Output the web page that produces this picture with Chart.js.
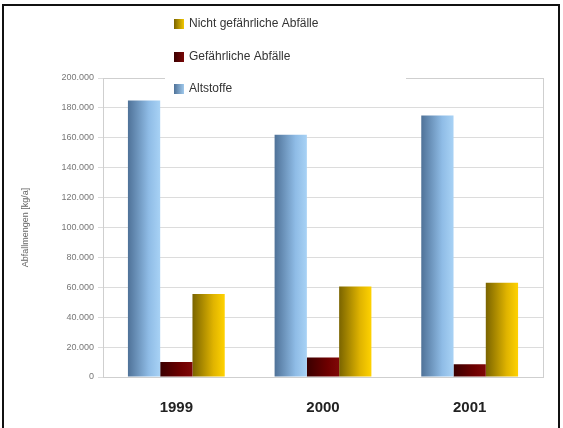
<!DOCTYPE html>
<html>
<head>
<meta charset="utf-8">
<script src="https://cdn.jsdelivr.net/npm/chart.js@4"></script>
<style>
  html, body { margin: 0; padding: 0; background: #fff; }
  #wrap { position: relative; width: 563px; height: 428px; overflow: hidden; }
  #frame { position: absolute; left: 2px; top: 4px; width: 558px; height: 440px;
           border: 2px solid #111; box-sizing: border-box; pointer-events: none; }
  canvas { position: absolute; left: 0; top: 0; }
</style>
</head>
<body>
<div id="wrap">
  <canvas id="chart" width="563" height="428"></canvas>
  <div id="frame"></div>
</div>
<script>
// data
const years = ['1999', '2000', '2001'];
const altstoffe = [185000, 162000, 175000];
const gefaehrlich = [10000, 13000, 8500];
const nichtGefaehrlich = [55500, 60500, 63000];

// gradient stops per series (dark left edge -> light right edge)
const seriesColors = [
    ['#4f7298', '#8fbce6', '#a8d2f5'],
    ['#3a0000', '#6e0000', '#800808'],
    ['#7a6400', '#e0b400', '#ffd200']
];

const fmt = v => v.toLocaleString('de-DE');

// horizontal gradient on every bar (own options copy per bar, they are shared otherwise)
const barGradient = {
    id: 'barGradient',
    beforeDatasetsDraw(chart) {
        const ctx = chart.ctx;
        chart.data.datasets.forEach((ds, i) => {
            chart.getDatasetMeta(i).data.forEach(bar => {
                const x0 = bar.x - bar.width / 2;
                const g = ctx.createLinearGradient(x0, 0, x0 + bar.width, 0);
                const c = seriesColors[i];
                g.addColorStop(0, c[0]);
                g.addColorStop(0.65, c[1]);
                g.addColorStop(1, c[2]);
                bar.options = Object.assign({}, bar.options, { backgroundColor: g });
            });
        });
    }
};

// legend box drawn over the top of the plot, reverse order
const boxLegend = {
    id: 'boxLegend',
    afterDraw(chart) {
        const ctx = chart.ctx;
        ctx.save();
        ctx.fillStyle = '#fff';
        ctx.fillRect(165, 8, 241, 92);
        const rows = [24, 57, 89];
        const order = [2, 1, 0];
        ctx.font = '12px "Liberation Sans", Arial, sans-serif';
        ctx.textBaseline = 'middle';
        order.forEach((di, k) => {
            const y = rows[k];
            const g = ctx.createLinearGradient(174, 0, 185, 0);
            const c = seriesColors[di];
            g.addColorStop(0, c[0]);
            g.addColorStop(1, c[2]);
            ctx.fillStyle = g;
            ctx.fillRect(174, y - 5, 10, 10);
            ctx.fillStyle = '#333';
            ctx.fillText(chart.data.datasets[di].label, 189, y);
        });
        ctx.restore();
    }
};

// light frame round the plot area
const plotFrame = {
    id: 'plotFrame',
    afterDatasetsDraw(chart) {
        const a = chart.chartArea;
        const ctx = chart.ctx;
        ctx.save();
        ctx.strokeStyle = '#cfcfcf';
        ctx.lineWidth = 1;
        ctx.strokeRect(a.left + 0.5, a.top + 0.5, a.right - a.left, a.bottom - a.top);
        ctx.restore();
    }
};

new Chart(document.getElementById('chart'), {
    type: 'bar',
    data: {
        labels: years,
        datasets: [
            { label: 'Altstoffe', data: altstoffe },
            { label: 'Gefährliche Abfälle', data: gefaehrlich },
            { label: 'Nicht gefährliche Abfälle', data: nichtGefaehrlich }
        ]
    },
    options: {
        responsive: false,
        animation: false,
        devicePixelRatio: 1,
        layout: { padding: { left: 20, top: 78, right: 20, bottom: 0 } },
        datasets: {
            bar: { categoryPercentage: 0.66, barPercentage: 1.0, borderWidth: 0 }
        },
        plugins: {
            legend: { display: false },
            tooltip: { enabled: false }
        },
        scales: {
            x: {
                grid: { display: false },
                border: { color: '#cfcfcf' },
                ticks: {
                    color: '#222',
                    padding: 14,
                    font: { family: '"Liberation Sans", Arial, sans-serif', size: 15, weight: 'bold' }
                },
                afterFit(s) { s.width; s.height = 51; }
            },
            y: {
                min: 0,
                max: 200000,
                ticks: {
                    stepSize: 20000,
                    color: '#777',
                    padding: 4,
                    font: { family: '"Liberation Sans", Arial, sans-serif', size: 9 },
                    callback: v => fmt(v)
                },
                grid: { color: '#dcdcdc', tickLength: 5 },
                border: { color: '#b8c4d4' },
                title: {
                    display: true,
                    text: 'Abfallmengen [kg/a]',
                    color: '#666',
                    padding: { top: 0, bottom: 6 },
                    font: { family: '"Liberation Sans", Arial, sans-serif', size: 9 }
                },
                afterFit(s) { s.width = 83; }
            }
        }
    },
    plugins: [barGradient, plotFrame, boxLegend]
});
</script>
</body>
</html>
